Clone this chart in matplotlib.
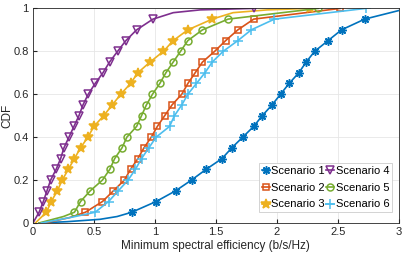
import numpy as np
import matplotlib
matplotlib.use('Agg')
import matplotlib.pyplot as plt

# ---------------------------------------------------------------------------
# data: x value at each CDF level
# markers sit at cdf = 0.05, 0.10, ..., 0.95, 1.0; extra points only shape the tails

# Scenario 1
s1_x = [0.05, 0.28, 0.55, 0.69, 0.81, 1.01, 1.17, 1.30, 1.42, 1.55, 1.63, 1.72,
        1.81, 1.88, 1.96, 2.03, 2.10, 2.18, 2.24, 2.31, 2.42, 2.53, 2.72, 3.0]
s1_y = [0.0, 0.006, 0.017, 0.03, 0.05, 0.10, 0.15, 0.20, 0.25, 0.30, 0.35, 0.40,
        0.45, 0.50, 0.55, 0.60, 0.65, 0.70, 0.75, 0.80, 0.85, 0.90, 0.95, 0.99]

# Scenario 2
s2_x = [0.10, 0.30, 0.43, 0.57, 0.66, 0.75, 0.80, 0.86, 0.91, 0.97, 1.02, 1.08,
        1.14, 1.22, 1.27, 1.33, 1.39, 1.49, 1.58, 1.68, 1.81, 2.52]
s2_y = [0.0, 0.025, 0.05, 0.10, 0.15, 0.20, 0.25, 0.30, 0.35, 0.40, 0.45, 0.50,
        0.55, 0.60, 0.65, 0.70, 0.75, 0.80, 0.85, 0.90, 0.95, 1.0]

# Scenario 3
s3_x = [0.02, 0.11, 0.15, 0.20, 0.24, 0.29, 0.34, 0.39, 0.45, 0.50, 0.58, 0.65,
        0.72, 0.80, 0.86, 0.96, 1.07, 1.15, 1.27, 1.47, 1.64, 1.92, 2.27]
s3_y = [0.0, 0.05, 0.10, 0.15, 0.20, 0.25, 0.30, 0.35, 0.40, 0.45, 0.50, 0.55,
        0.60, 0.65, 0.70, 0.75, 0.80, 0.85, 0.90, 0.95, 0.98, 0.993, 1.0]

# Scenario 4
s4_x = [0.0, 0.05, 0.085, 0.115, 0.145, 0.19, 0.227, 0.254, 0.295, 0.336, 0.377,
        0.41, 0.453, 0.51, 0.574, 0.628, 0.694, 0.762, 0.85, 0.984, 1.15, 1.37, 1.81]
s4_y = [0.0, 0.05, 0.10, 0.15, 0.20, 0.25, 0.30, 0.35, 0.40, 0.45, 0.50,
        0.55, 0.60, 0.65, 0.70, 0.75, 0.80, 0.85, 0.90, 0.95, 0.98, 0.993, 1.0]

# Scenario 5
s5_x = [0.05, 0.25, 0.34, 0.39, 0.47, 0.57, 0.63, 0.67, 0.73, 0.77, 0.85, 0.89,
        0.93, 0.98, 1.04, 1.09, 1.15, 1.21, 1.27, 1.39, 1.60, 2.34]
s5_y = [0.0, 0.03, 0.05, 0.10, 0.15, 0.20, 0.25, 0.30, 0.35, 0.40, 0.45, 0.50,
        0.55, 0.60, 0.65, 0.70, 0.75, 0.80, 0.85, 0.90, 0.95, 1.0]

# Scenario 6
s6_x = [0.07, 0.33, 0.51, 0.62, 0.70, 0.78, 0.84, 0.89, 0.95, 1.01, 1.12, 1.16,
        1.22, 1.27, 1.34, 1.41, 1.47, 1.56, 1.68, 1.79, 1.98, 2.73]
s6_y = [0.0, 0.028, 0.05, 0.10, 0.15, 0.20, 0.25, 0.30, 0.35, 0.40, 0.45, 0.50,
        0.55, 0.60, 0.65, 0.70, 0.75, 0.80, 0.85, 0.90, 0.95, 1.0]

labels = ['Scenario 1', 'Scenario 2', 'Scenario 3',
          'Scenario 4', 'Scenario 5', 'Scenario 6']

# ---------------------------------------------------------------------------

plt.rcParams['font.family'] = ['Liberation Sans', 'DejaVu Sans']

colors = ['#0072BD', '#D95319', '#EDB120', '#7E2F8E', '#77AC30', '#4DBEEE']
markers = [(8, 2, 0), 's', '*', 'v', 'o', '+']
msizes = [6, 4.5, 7, 5.5, 5, 7]
series = [(s1_x, s1_y), (s2_x, s2_y), (s3_x, s3_y),
          (s4_x, s4_y), (s5_x, s5_y), (s6_x, s6_y)]

fig = plt.figure(figsize=(4.07, 2.62), dpi=100)
ax = fig.add_axes([0.081, 0.149, 0.899, 0.819])

for (xs, ys), c, m, ms, lab in zip(series, colors, markers, msizes, labels):
    xs = np.array(xs)
    ys = np.array(ys)
    # markers only on the 0.05 grid of cdf levels
    k = np.round(ys / 0.05)
    mk = [i for i in range(len(ys)) if ys[i] > 0 and abs(ys[i] - k[i] * 0.05) < 1e-6]
    face = c if m == '*' else 'none'
    ax.plot(xs, ys, color=c, lw=1.2, marker=m, markevery=mk, ms=ms,
            mfc=face, mec=c, mew=1.1, label=lab, clip_on=True)

ax.set_xlim(0, 3)
ax.set_ylim(0, 1)
ax.set_xticks(np.arange(0, 3.01, 0.5))
ax.set_xticklabels(['0', '0.5', '1', '1.5', '2', '2.5', '3'])
ax.set_yticks(np.arange(0, 1.01, 0.2))
ax.set_yticklabels(['0', '0.2', '0.4', '0.6', '0.8', '1'])
ax.grid(True, color='#e6e6e6', lw=0.6)
ax.set_axisbelow(True)
ax.tick_params(direction='in', length=3, labelsize=8, colors='#262626', pad=3)
for sp in ax.spines.values():
    sp.set_color('#262626')
    sp.set_linewidth(0.6)

ax.set_xlabel('Minimum spectral efficiency (b/s/Hz)', fontsize=8.5, color='#262626', labelpad=2)
ax.set_ylabel('CDF', fontsize=8.5, color='#262626')
ax.yaxis.set_label_coords(-0.053, 0.5)

leg = ax.legend(ncol=2, loc='lower right', bbox_to_anchor=(0.981, 0.05),
                fontsize=8, handlelength=0.75, handletextpad=0.1,
                columnspacing=0.1, labelspacing=0.6, borderpad=0.25,
                borderaxespad=0.0,
                fancybox=False, framealpha=1, edgecolor='#cccccc')
leg.get_frame().set_linewidth(0.6)
for h in leg.get_lines():
    h.set_linewidth(1.2)

fig.savefig('out.png', dpi=100)
